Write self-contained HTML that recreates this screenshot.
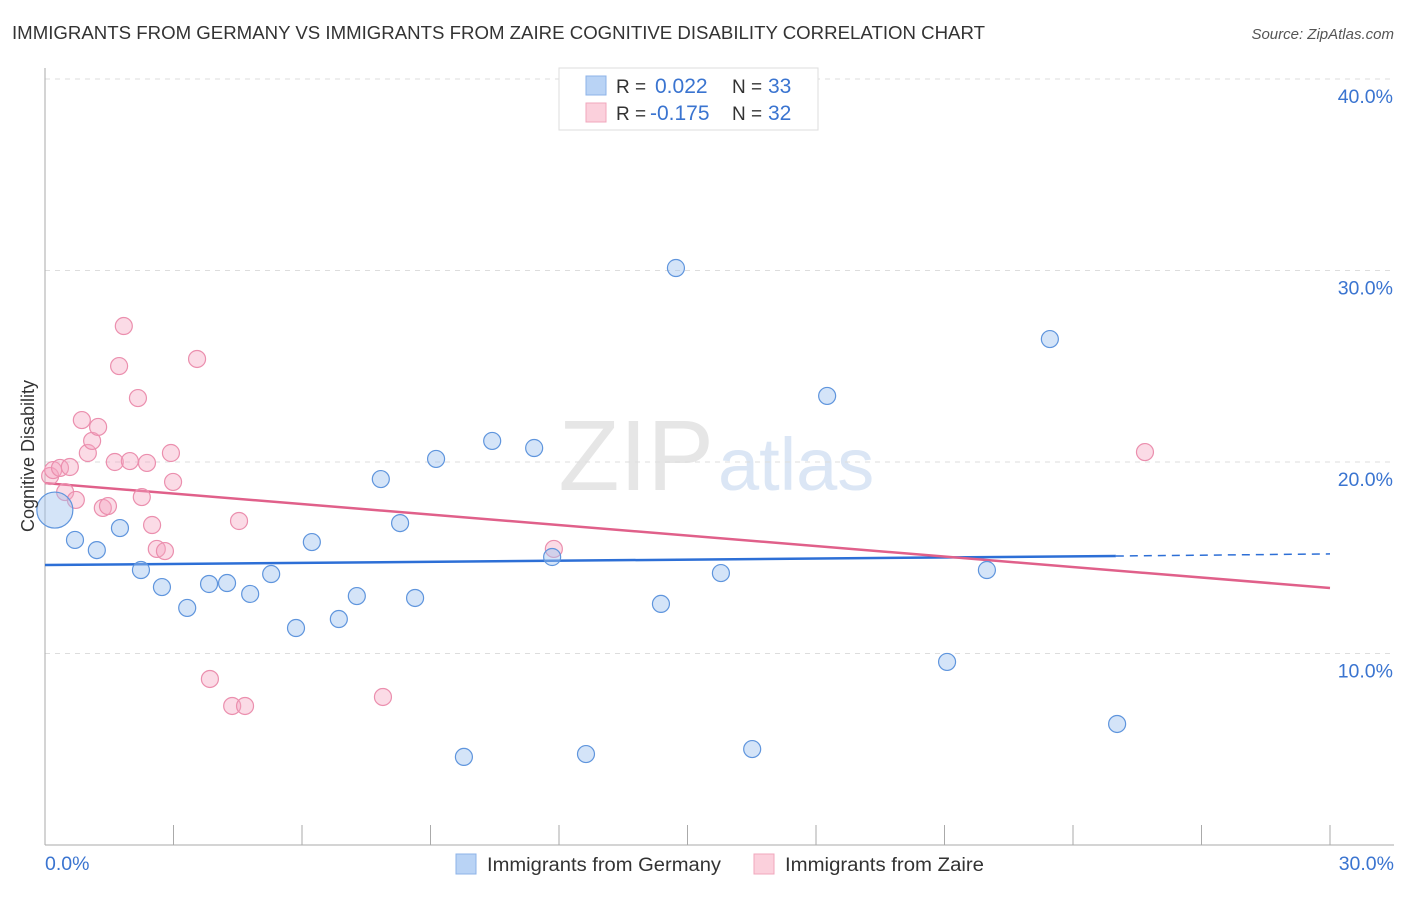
<!DOCTYPE html>
<html><head><meta charset="utf-8"><style>
body{margin:0;background:#fff;font-family:"Liberation Sans",sans-serif;}
svg text{font-family:"Liberation Sans",sans-serif;}
</style></head><body>
<svg id="chart" width="1406" height="892" xmlns="http://www.w3.org/2000/svg">
<text x="12" y="39" font-size="18" fill="#333" textLength="973" lengthAdjust="spacingAndGlyphs">IMMIGRANTS FROM GERMANY VS IMMIGRANTS FROM ZAIRE COGNITIVE DISABILITY CORRELATION CHART</text>
<text x="1394" y="39" font-size="15" fill="#555" font-style="italic" text-anchor="end">Source: ZipAtlas.com</text>
<text x="714" y="490" font-size="100" fill="#e6e6e6" text-anchor="end" font-family="Liberation Serif">ZIP</text>
<text x="718" y="490" font-size="74" fill="#dbe6f5">atlas</text>
<g id="grid"></g>
<g id="axes"></g>
<g id="lines"></g>
<g id="points"></g>
<text x="34" y="456" font-size="18" fill="#333" text-anchor="middle" transform="rotate(-90 34 456)">Cognitive Disability</text>
<g>
<rect x="559" y="68" width="259" height="62" fill="#fff" stroke="#ddd"/>
<rect x="586" y="76" width="20" height="19" fill="#b9d3f5" stroke="#8db3e8"/>
<rect x="586" y="103" width="20" height="19" fill="#fbd0dc" stroke="#f0a7bd"/>
<text x="616" y="93" font-size="19" fill="#333">R = </text>
<text x="655" y="93" font-size="21" fill="#3a74d0">0.022</text>
<text x="732" y="93" font-size="19" fill="#333">N = </text>
<text x="768" y="93" font-size="21" fill="#3a74d0">33</text>
<text x="616" y="120" font-size="19" fill="#333">R = </text>
<text x="650" y="120" font-size="21" fill="#3a74d0">-0.175</text>
<text x="732" y="120" font-size="19" fill="#333">N = </text>
<text x="768" y="120" font-size="21" fill="#3a74d0">32</text>
</g>
<g>
<rect x="456" y="854" width="20" height="20" fill="#b9d3f5" stroke="#8db3e8"/>
<text x="487" y="871" font-size="19" fill="#333" textLength="234" lengthAdjust="spacingAndGlyphs">Immigrants from Germany</text>
<rect x="754" y="854" width="20" height="20" fill="#fbd0dc" stroke="#f0a7bd"/>
<text x="785" y="871" font-size="19" fill="#333" textLength="199" lengthAdjust="spacingAndGlyphs">Immigrants from Zaire</text>
</g>
</svg>
<script>
const yTicks=[10,20,30,40];
const yTickLabels=["10.0%","20.0%","30.0%","40.0%"];
const germanyX=[0.23,0.70,1.21,1.75,2.24,2.73,3.32,3.83,4.25,4.79,5.28,5.86,6.23,6.86,7.28,7.84,8.29,8.64,9.13,9.78,10.44,11.42,11.84,12.63,14.38,14.73,15.78,16.51,18.26,21.06,21.99,23.46,25.03];
const germanyY=[17.49,15.93,15.40,16.55,14.36,13.47,12.38,13.63,13.68,13.11,14.15,11.33,15.82,11.80,13.00,19.11,16.81,12.90,20.16,4.60,21.10,20.73,15.04,4.75,12.59,30.13,14.20,5.01,23.45,9.56,14.36,26.42,6.32];
const zaireX=[0.12,0.19,0.35,0.58,0.47,0.72,0.86,1.00,1.10,1.24,1.35,1.47,1.63,1.73,1.84,1.98,2.17,2.26,2.38,2.50,2.61,2.80,2.99,2.94,3.55,3.85,4.37,4.53,4.67,7.89,11.88,25.68];
const zaireY=[19.27,19.58,19.69,19.74,18.43,18.02,22.19,20.47,21.10,21.83,17.60,17.70,20.00,25.01,27.10,20.05,23.34,18.17,19.95,16.71,15.46,15.35,18.96,20.47,25.38,8.67,7.26,16.92,7.26,7.73,15.46,20.52];
const germanyTrend=[14.62,15.09,15.2];
const zaireTrend=[18.9,13.42];
const NS="http://www.w3.org/2000/svg";
const X=v=>45+v/30*1285;
const Y=v=>845-v*19.15;
function mk(t,a,p){const e=document.createElementNS(NS,t);for(const k in a)e.setAttribute(k,a[k]);p.appendChild(e);return e;}
const grid=document.getElementById('grid'),axes=document.getElementById('axes');
yTicks.forEach((t,i)=>{
 const l=mk('line',{x1:45,x2:1394,y1:Y(t),y2:Y(t),stroke:'#ddd','stroke-dasharray':'5,5'},grid);
 
 
 const tx=mk('text',{x:1393,y:Y(t)+24,'font-size':19.5,fill:'#3a74d0','text-anchor':'end'},axes);
 tx.textContent=yTickLabels[i];
 
 
});
const ax=mk('line',{x1:45,x2:45,y1:68,y2:845,stroke:'#aaa'},axes);


const bx=mk('line',{x1:45,x2:1394,y1:845,y2:845,stroke:'#aaa'},axes);


for(let i=1;i<=10;i++){const t=mk('line',{x1:X(i*3),x2:X(i*3),y1:825,y2:845,stroke:'#aaa'},axes);
 
 }
[[0,"0.0%",'start',45],[30,"30.0%",'end',1394]].forEach(d=>{const t=mk('text',{x:d[3],y:870,'font-size':19.5,fill:'#3a74d0','text-anchor':d[2]},axes);t.textContent=d[1];
 
 });
const lines=document.getElementById('lines');
let bl=mk('line',{x1:X(0),y1:Y(germanyTrend[0]),x2:X(25),y2:Y(germanyTrend[1]),stroke:'#2d6fd6','stroke-width':2.5},lines);


let bd=mk('line',{x1:X(25),y1:Y(germanyTrend[1]),x2:X(30),y2:Y(germanyTrend[2]),stroke:'#2d6fd6','stroke-width':1.5,'stroke-dasharray':'8,6'},lines);


let pl=mk('line',{x1:X(0),y1:Y(zaireTrend[0]),x2:X(30),y2:Y(zaireTrend[1]),stroke:'#e0608a','stroke-width':2.5},lines);


const pts=document.getElementById('points');
zaireX.forEach((x,i)=>{const c=mk('circle',{cx:X(x),cy:Y(zaireY[i]),r:8.5,fill:'rgba(245,165,192,0.4)',stroke:'#eb8fae','stroke-width':1.2},pts);
 
 });
germanyX.forEach((x,i)=>{const c=mk('circle',{cx:X(x),cy:Y(germanyY[i]),r:i===0?18:8.5,fill:'rgba(160,195,240,0.45)',stroke:'#5f95dd','stroke-width':1.2},pts);
 
 });
</script>
</body></html>
